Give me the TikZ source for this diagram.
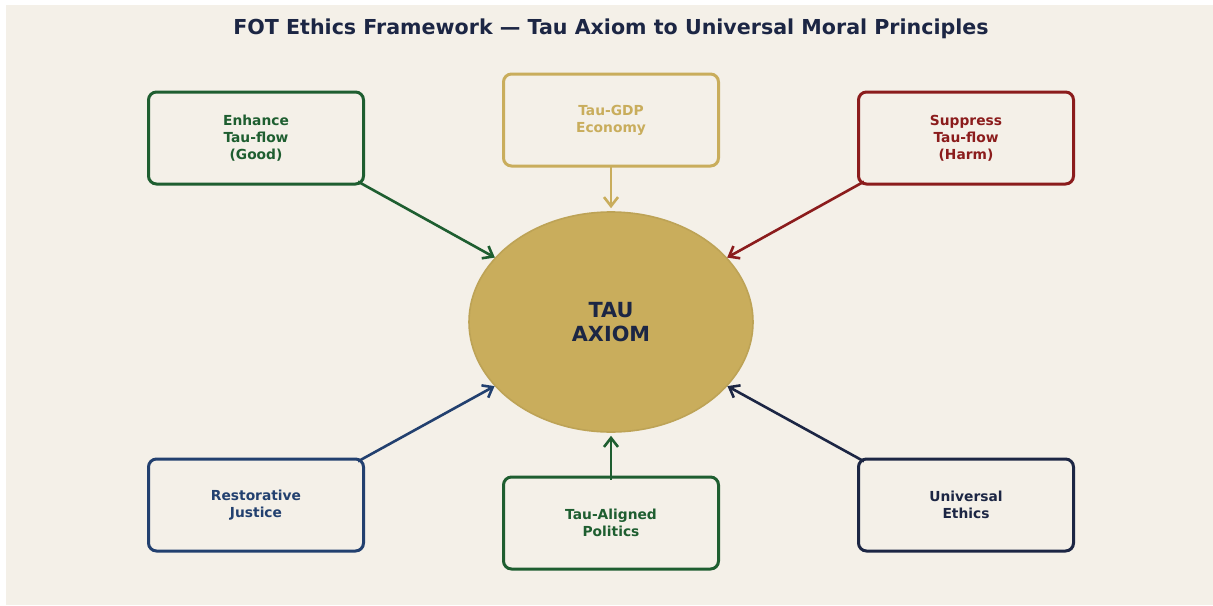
\documentclass[tikz,border=0pt]{standalone}
\usepackage{fontspec}
\setmainfont{DejaVu Sans}
\usetikzlibrary{shapes.geometric,arrows.meta}
\definecolor{bgbeige}{HTML}{F4F0E8}
\definecolor{fotgreen}{HTML}{1E5E30}
\definecolor{fotgold}{HTML}{C9AD5C}
\definecolor{fotred}{HTML}{8B1C1C}
\definecolor{fotblue}{HTML}{22406F}
\definecolor{fotnavy}{HTML}{1C2644}

\begin{document}
\begin{tikzpicture}[x=0.5pt,y=-0.5pt,
        box/.style={draw=#1,text=#1,line width=1.5pt,rounded corners=4pt,
            minimum width=107.5pt,minimum height=46pt,inner sep=0pt,align=center,
            font=\fontsize{6.9}{8.4}\selectfont\bfseries},
        link/.style={draw=#1,line width=1.3pt,
            -{Straight Barb[length=4.5pt,width=7pt,line width=1.3pt]}}]
        %\draw[very thin,color=gray] (0,0) grid[step=50] (1213,605);
        \useasboundingbox (0,0) rectangle (1213,605);
        \fill[bgbeige] (6,5) rectangle (1213,605);
        \node[text=fotnavy,font=\fontsize{10.3}{12}\selectfont\bfseries] (title) at (611,29)
            {FOT Ethics Framework — Tau Axiom to Universal Moral Principles};
        \node[ellipse,fill=fotgold,draw=fotgold!94!black,line width=0.8pt,minimum width=142pt,
            minimum height=110pt,inner sep=0pt,align=center,text=fotnavy,
            font=\fontsize{10.4}{12}\selectfont\bfseries] (tau) at (611,322) {TAU\\AXIOM};
        \node[box=fotgreen] (good) at (256,138) {Enhance\\Tau-flow\\(Good)};
        \node[box=fotgold] (gdp) at (611,120) {Tau-GDP\\Economy};
        \node[box=fotred] (harm) at (966,138) {Suppress\\Tau-flow\\(Harm)};
        \node[box=fotblue] (justice) at (256,505) {Restorative\\Justice};
        \node[box=fotgreen] (politics) at (611,523) {Tau-Aligned\\Politics};
        \node[box=fotnavy] (ethics) at (966,505) {Universal\\Ethics};
        \draw[link=fotgreen,shorten <=-4pt] (good.south east) -- (tau);
        \draw[link=fotgold,shorten <=-1pt,shorten >=1.5pt] (gdp.south) -- (tau);
        \draw[link=fotred,shorten <=-4pt] (harm.south west) -- (tau);
        \draw[link=fotblue,shorten <=-4pt] (justice.north east) -- (tau);
        \draw[link=fotgreen,shorten <=-2pt,shorten >=1.5pt] (politics.north) -- (tau);
        \draw[link=fotnavy,shorten <=-4pt] (ethics.north west) -- (tau);
    \end{tikzpicture}
\end{document}
